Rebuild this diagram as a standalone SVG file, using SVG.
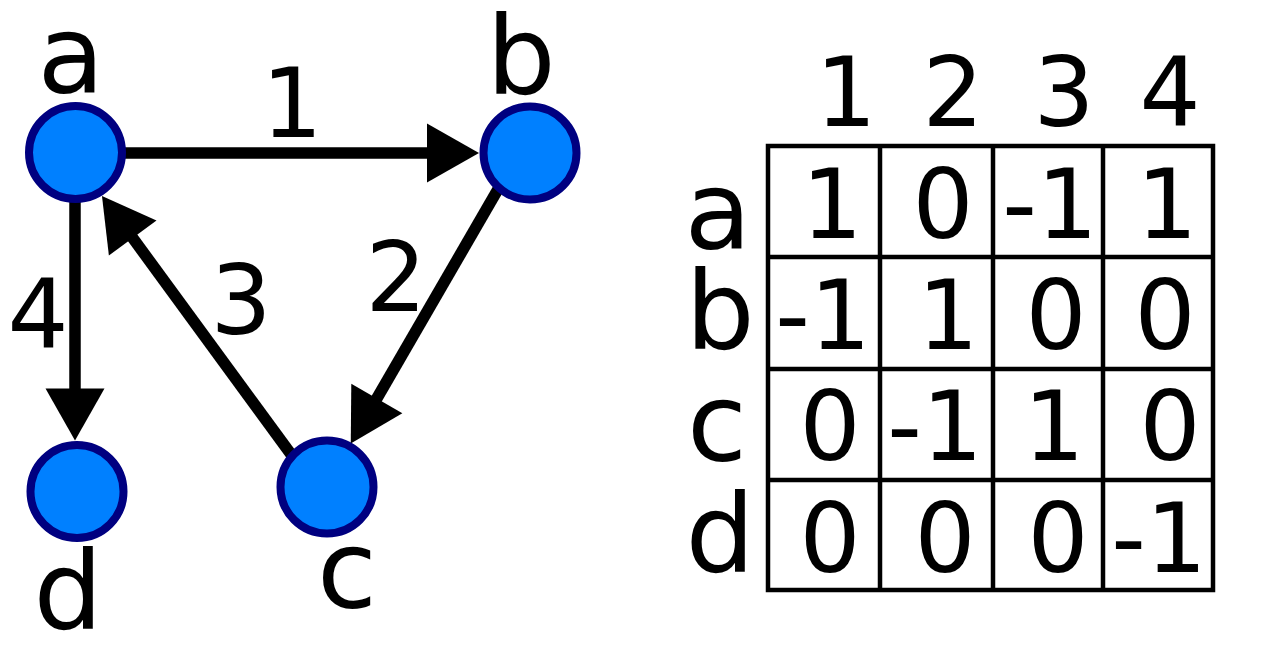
<svg xmlns="http://www.w3.org/2000/svg" width="1280" height="668" viewBox="0 0 1280 668">
<defs>
<style>
.edge{stroke:#000;stroke-width:11.5;fill:none;marker-end:url(#arr)}
.node{fill:#0080ff;stroke:#000080;stroke-width:8}
.lbl{font-family:"DejaVu Sans","Liberation Sans",sans-serif;font-size:109px;fill:#000;text-anchor:middle}
.num{font-family:"DejaVu Sans","Liberation Sans",sans-serif;font-size:96px;fill:#000;text-anchor:middle}
.grid{stroke:#000;stroke-width:4.5;fill:none}
</style>
<marker id="arr" markerUnits="userSpaceOnUse" markerWidth="54" markerHeight="60" refX="22" refY="29.5" orient="auto" overflow="visible">
<path d="M0,0 L52,29.5 L0,59 z" fill="#000"/>
</marker>
</defs>
<rect width="1280" height="668" fill="#fff"/>
<g id="connectors">
<line class="edge" x1="75" y1="153" x2="449" y2="153"/>
<line class="edge" x1="519" y1="153" x2="365.8" y2="417.5"/>
<line class="edge" x1="315" y1="487" x2="119.7" y2="220.2"/>
<line class="edge" x1="75" y1="153" x2="75" y2="410.5"/>
</g>
<g id="edge-labels">
<text class="num" x="292" y="137">1</text>
<text class="num" x="396" y="311">2</text>
<text class="num" x="241" y="334">3</text>
<text class="num" x="38" y="348">4</text>
</g>
<g id="node-a"><circle class="node" cx="75.5" cy="152.5" r="46.5"/><text class="lbl" x="71" y="92">a</text></g>
<g id="node-b"><circle class="node" cx="530" cy="153" r="46.5"/><text class="lbl" x="521" y="94">b</text></g>
<g id="node-c"><circle class="node" cx="327" cy="487" r="46.5"/><text class="lbl" x="347" y="607">c</text></g>
<g id="node-d"><circle class="node" cx="77" cy="491.5" r="46.5"/><text class="lbl" x="68" y="629">d</text></g>
<g id="matrix">
<rect class="grid" x="768" y="146" width="445" height="444"/>
<line class="grid" x1="880" y1="146" x2="880" y2="590"/>
<line class="grid" x1="993" y1="146" x2="993" y2="590"/>
<line class="grid" x1="1103" y1="146" x2="1103" y2="590"/>
<line class="grid" x1="768" y1="257" x2="1213" y2="257"/>
<line class="grid" x1="768" y1="369" x2="1213" y2="369"/>
<line class="grid" x1="768" y1="480" x2="1213" y2="480"/>
<text class="num" x="846" y="126">1</text>
<text class="num" x="953" y="126">2</text>
<text class="num" x="1064" y="126">3</text>
<text class="num" x="1170" y="126">4</text>
<text class="lbl" x="718" y="248">a</text>
<text class="lbl" x="720" y="349">b</text>
<text class="lbl" x="717" y="460">c</text>
<text class="lbl" x="720" y="572">d</text>
<text class="num" x="832" y="238">1</text>
<text class="num" x="943" y="238">0</text>
<text class="num" x="1050" y="238">-1</text>
<text class="num" x="1167" y="238">1</text>
<text class="num" x="823" y="349">-1</text>
<text class="num" x="948" y="349">1</text>
<text class="num" x="1056" y="349">0</text>
<text class="num" x="1165" y="349">0</text>
<text class="num" x="830" y="460">0</text>
<text class="num" x="935" y="460">-1</text>
<text class="num" x="1054" y="460">1</text>
<text class="num" x="1170" y="460">0</text>
<text class="num" x="830" y="572">0</text>
<text class="num" x="945" y="572">0</text>
<text class="num" x="1058" y="572">0</text>
<text class="num" x="1159" y="572">-1</text>
</g>
</svg>
